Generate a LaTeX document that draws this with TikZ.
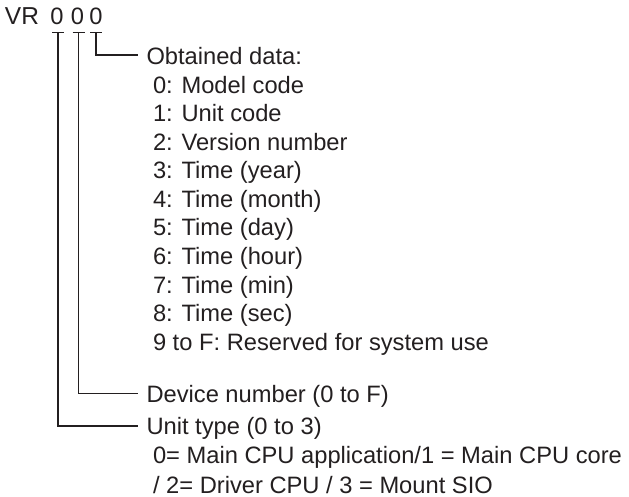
\documentclass[tikz,border=0pt]{standalone}
\usepackage{fontspec}
\setmainfont{Liberation Sans}
\definecolor{textcol}{HTML}{231F20}
\definecolor{linecol}{HTML}{231F20}
\begin{document}
\begin{tikzpicture}[x=1pt,y=-1pt,
  txt/.style={anchor=base west,inner sep=0pt,outer sep=0pt,font=\fontsize{23.7}{28.5}\selectfont,text=textcol},
  dig/.style={txt,anchor=base},
  ln/.style={draw=linecol,line width=1.1pt}]
\useasboundingbox (0,0) rectangle (629,497);
% header
\node[txt,font=\fontsize{24.5}{28.5}\selectfont] (vr) at (5,25) {VR};
\node[dig] (d1) at (57,25) {0};
\node[dig] (d2) at (77.5,25) {0};
\node[dig] (d3) at (96,25) {0};
% texts
\node[txt] (obt) at (146.5,65) {Obtained data:};
\node[txt] (i0) at (153,93.5) {0: Model code};
\node[txt] (i1) at (153,122) {1: Unit code};
\node[txt] (i2) at (153,150.5) {2: Version number};
\node[txt] (i3) at (153,179) {3: Time (year)};
\node[txt] (i4) at (153,207.5) {4: Time (month)};
\node[txt] (i5) at (153,236) {5: Time (day)};
\node[txt] (i6) at (153,264.5) {6: Time (hour)};
\node[txt] (i7) at (153,293) {7: Time (min)};
\node[txt] (i8) at (153,321.5) {8: Time (sec)};
\node[txt] (i9) at (153,350) {9 to F: Reserved for system use};
\node[txt] (dev) at (146.5,402) {Device number (0 to F)};
\node[txt] (unit) at (146.5,434) {Unit type (0 to 3)};
\node[txt] (u1) at (153,463.5) {0= Main CPU application/1 = Main CPU core};
\node[txt] (u2) at (153,493) {/ 2= Driver CPU / 3 = Mount SIO};
% connector points
\coordinate (t1) at (58,32.5);
\coordinate (t2) at (78.5,32.5);
\coordinate (t3) at (96,32.5);
\coordinate (e3) at (138,55);
\coordinate (e2) at (138,393.5);
\coordinate (e1) at (138,426);
% underline bars
\draw[ln] ([xshift=-6pt]t1) -- ([xshift=6pt]t1);
\draw[ln] ([xshift=-6pt]t2) -- ([xshift=6pt]t2);
\draw[ln] ([xshift=-6pt]t3) -- ([xshift=6pt]t3);
% connectors
\draw[ln] (t3) |- (e3);
\draw[ln] (t2) |- (e2);
\draw[ln] (t1) |- (e1);
\end{tikzpicture}
\end{document}
